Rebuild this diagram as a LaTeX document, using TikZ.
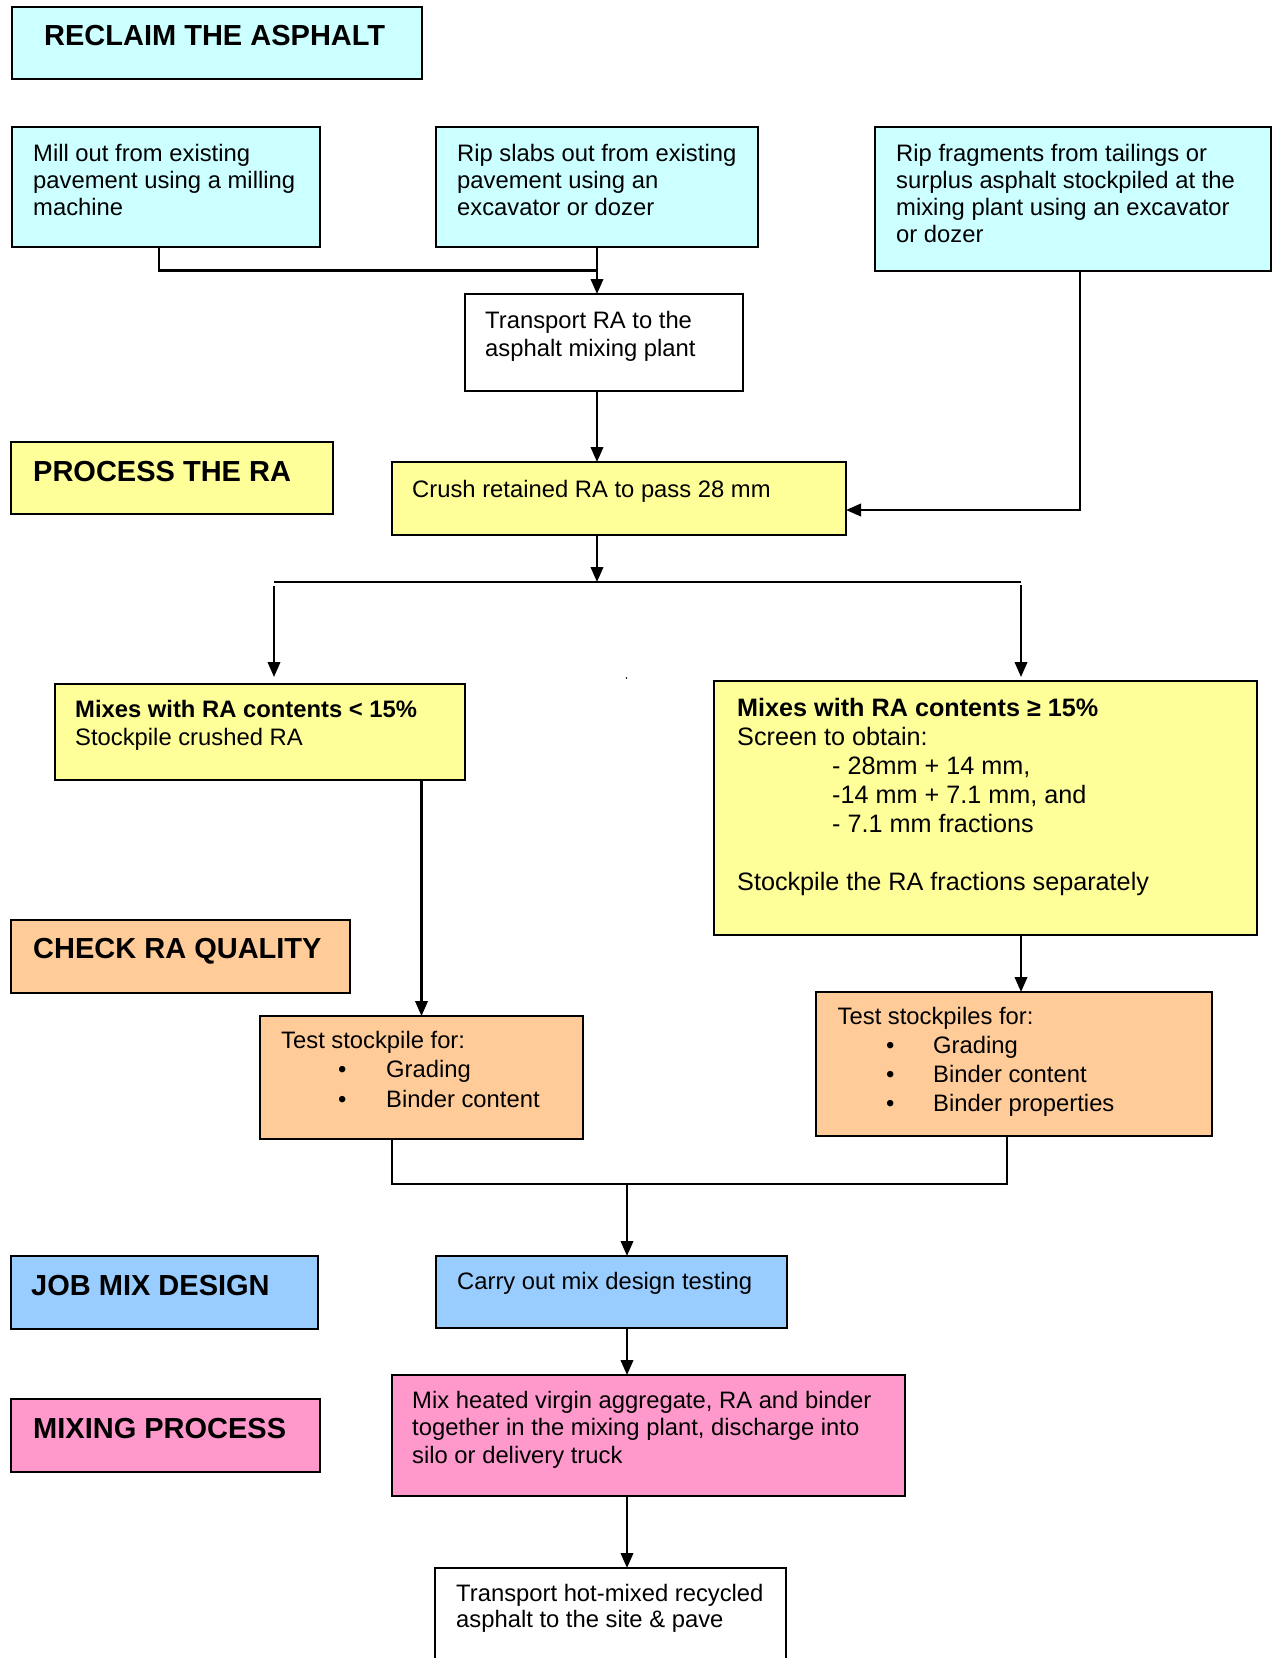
\documentclass[tikz,border=0pt]{standalone}
\usepackage{fontspec}
\setmainfont{Liberation Sans}
\usetikzlibrary{arrows.meta,calc}
\definecolor{cyanbox}{HTML}{CCFFFF}
\definecolor{yellowbox}{HTML}{FFFF99}
\definecolor{orangebox}{HTML}{FFCC99}
\definecolor{bluebox}{HTML}{99CCFF}
\definecolor{pinkbox}{HTML}{FF99CC}
\newcommand\vlines[1]{\vtop{\halign{##\hfil\cr#1\crcr}}}
\begin{document}
\begin{tikzpicture}[x=1pt,y=-1pt,
  box/.style={draw=black, line width=2.2pt, inner sep=0pt, outer sep=0pt, anchor=north west},
  txt/.style={inner sep=0pt, anchor=base west, font=\fontsize{23.8}{27.3}\selectfont},
  ttl/.style={inner sep=0pt, anchor=base west, font=\fontsize{29}{33}\selectfont\bfseries},
  con/.style={line width=2.2pt},
  arr/.style={line width=2.2pt, -{Triangle[length=15pt,width=12.5pt]}}]
\useasboundingbox (0,0) rectangle (1272,1658);

% boxes
\node[box, fill=cyanbox, minimum width=410pt, minimum height=72pt] (reclaim) at (12,7) {};
\node[box, fill=cyanbox, minimum width=308pt, minimum height=120pt] (mill) at (12,127) {};
\node[box, fill=cyanbox, minimum width=322pt, minimum height=120pt] (slabs) at (436,127) {};
\node[box, fill=cyanbox, minimum width=396pt, minimum height=144pt] (frag) at (875,127) {};
\node[box, fill=white, minimum width=278pt, minimum height=97pt] (transport) at (465,294) {};
\node[box, fill=yellowbox, minimum width=322pt, minimum height=72pt] (process) at (11,442) {};
\node[box, fill=yellowbox, minimum width=454pt, minimum height=73pt] (crush) at (392,462) {};
\node[box, fill=yellowbox, minimum width=410pt, minimum height=96pt] (low) at (55,684) {};
\node[box, fill=yellowbox, minimum width=543pt, minimum height=254pt] (high) at (714,681) {};
\node[box, fill=orangebox, minimum width=339pt, minimum height=73pt] (check) at (11,920) {};
\node[box, fill=orangebox, minimum width=323pt, minimum height=123pt] (test1) at (260,1016) {};
\node[box, fill=orangebox, minimum width=396pt, minimum height=144pt] (test2) at (816,992) {};
\node[box, fill=bluebox, minimum width=307pt, minimum height=73pt] (job) at (11,1256) {};
\node[box, fill=bluebox, minimum width=351pt, minimum height=72pt] (carry) at (436,1256) {};
\node[box, fill=pinkbox, minimum width=309pt, minimum height=73pt] (mixing) at (11,1399) {};
\node[box, fill=pinkbox, minimum width=513pt, minimum height=121pt] (mix) at (392,1375) {};
\node[box, fill=white, minimum width=351pt, minimum height=120pt] (hot) at (435,1568) {};

% texts
\node[ttl] (reclaimT) at (44,45) {RECLAIM THE ASPHALT};
\node[txt] (millT) at (33,161) {\vlines{Mill out from existing\cr pavement using a milling\cr machine}};
\node[txt] (slabsT) at (457,161) {\vlines{Rip slabs out from existing\cr pavement using an\cr excavator or dozer}};
\node[txt] (fragT) at (896,161) {\vlines{Rip fragments from tailings or\cr surplus asphalt stockpiled at the\cr mixing plant using an excavator\cr or dozer}};
\node[txt, font=\fontsize{23.8}{28.6}\selectfont] (transT) at (485,328) {\vlines{Transport RA to the\cr asphalt mixing plant}};
\node[ttl] (processT) at (33,481) {PROCESS THE RA};
\node[txt] (crushT) at (412,497) {Crush retained RA to pass 28 mm};
\node[txt, font=\fontsize{23.8}{28.5}\selectfont] (lowT) at (75,717) {\vlines{\textbf{Mixes with RA contents < 15\%}\cr Stockpile crushed RA}};
\node[txt, font=\fontsize{25.2}{29}\selectfont] (highT) at (737,716) {\vlines{\textbf{Mixes with RA contents ≥ 15\%}\cr Screen to obtain:\cr \hskip95pt- 28mm + 14 mm,\cr \hskip95pt-14 mm + 7.1 mm, and\cr \hskip95pt- 7.1 mm fractions\cr \cr Stockpile the RA fractions separately}};
\node[ttl] (checkT) at (33,958) {CHECK RA QUALITY};
\node[txt, font=\fontsize{23.8}{29.5}\selectfont] (test1T) at (281,1048) {\vlines{Test stockpile for:\cr \makebox[105pt][l]{\hskip57pt•}Grading\cr \makebox[105pt][l]{\hskip57pt•}Binder content}};
\node[txt, font=\fontsize{23.8}{29.3}\selectfont] (test2T) at (837.5,1024) {\vlines{Test stockpiles for:\cr \makebox[95.5pt][l]{\hskip48.3pt•}Grading\cr \makebox[95.5pt][l]{\hskip48.3pt•}Binder content\cr \makebox[95.5pt][l]{\hskip48.3pt•}Binder properties}};
\node[ttl] (jobT) at (31,1295) {JOB MIX DESIGN};
\node[txt] (carryT) at (457,1289) {Carry out mix design testing};
\node[ttl] (mixingT) at (33,1438) {MIXING PROCESS};
\node[txt, font=\fontsize{23.8}{27.5}\selectfont] (mixT) at (412,1408) {\vlines{Mix heated virgin aggregate, RA and binder\cr together in the mixing plant, discharge into\cr silo or delivery truck}};
\node[txt, font=\fontsize{23.8}{26.5}\selectfont] (hotT) at (456,1601) {\vlines{Transport hot-mixed recycled\cr asphalt to the site \& pave}};

% connectors
\coordinate (j1) at ($(slabs.south)!0.5!(slabs.south |- transport.north)$);
\draw[con] ([xshift=-7pt]mill.south) |- (j1);
\draw[arr] (slabs.south) -- (slabs.south |- transport.north);
\draw[arr] (slabs.south |- transport.south) -- (slabs.south |- crush.north);
\draw[arr] ([xshift=7pt]frag.south) |- ([yshift=-11.5pt]crush.east);
\coordinate (split) at (597,582);
\coordinate (splitL) at (274,582);
\coordinate (splitR) at (1021,582);
\coordinate (splitLb) at (274,586);
\coordinate (splitRb) at (1021,585);
\draw[arr] (slabs.south |- crush.south) -- (split);
\draw[con] (splitL) -- (splitR);
\draw[arr, shorten >=7pt] (splitLb) -- (splitL |- low.north);
\draw[arr, shorten >=4pt] (splitRb) -- (splitR |- high.north);
\fill (626.5,678) circle (0.9pt);
\draw[arr] (low.south -| test1.north) -- (test1.north);
\draw[arr] (high.south -| splitR) -- (test2.north -| splitR);
\coordinate (m1) at (392,1184);
\coordinate (m2) at (1007,1184);
\coordinate (merge) at (627,1184);
\draw[con] (test1.south -| m1) -- (m1) -- (m2) -- (test2.south -| m2);
\draw[arr] (merge) -- (carry.north -| merge);
\draw[arr] (carry.south -| merge) -- (mix.north -| merge);
\draw[arr] (mix.south -| merge) -- (hot.north -| merge);
\end{tikzpicture}
\end{document}
